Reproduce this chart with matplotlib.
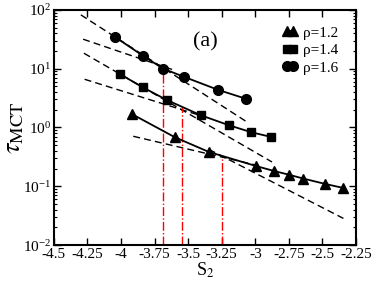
import matplotlib
matplotlib.use("Agg")
import matplotlib.pyplot as plt
import numpy as np

plt.rcParams['font.family'] = ['Liberation Serif', 'DejaVu Serif']
plt.rcParams['mathtext.fontset'] = 'stix'

# data
s2_12 = [-3.917, -3.598, -3.345, -2.995, -2.861, -2.749, -2.642, -2.483, -2.349]
tau_12 = [1.68, 0.68, 0.383, 0.221, 0.182, 0.157, 0.135, 0.110, 0.094]
s2_14 = [-4.010, -3.839, -3.660, -3.405, -3.196, -3.030, -2.883]
tau_14 = [8.14, 4.83, 2.94, 1.61, 1.09, 0.83, 0.69]
s2_16 = [-4.045, -3.839, -3.686, -3.529, -3.276, -3.072]
tau_16 = [34.7, 16.7, 10.0, 7.24, 4.35, 3.09]

# dashed fits (end points)
fits = [
    ([-4.299, -3.062], [82.2, 1.24]),
    ([-4.282, -3.620], [31.7, 9.7]),
    ([-4.276, -2.876], [18.3, 0.259]),
    ([-4.271, -3.375], [6.6, 1.51]),
    ([-3.909, -2.950], [0.708, 0.217]),
    ([-3.345, -2.344], [0.423, 0.0284]),
]

# crossover markers
cross_x = [-3.686, -3.544, -3.248]
cross_top = [10.0, 2.19, 0.311]

fig = plt.figure(figsize=(3.74, 2.82), dpi=100)
ax = fig.add_axes([0.144, 0.131, 0.808, 0.834])

for xs, ys in fits:
    ax.plot(xs, ys, color='black', ls=(0, (5, 3)), lw=1.0)

for x, t in zip(cross_x, cross_top):
    ax.plot([x, x], [0.01, t], color='red', ls='-.', lw=1.0)

ax.plot(s2_12, tau_12, 'k-^', ms=7.5, lw=1.3, label='ρ=1.2')
ax.plot(s2_14, tau_14, 'k-s', ms=6, lw=1.3, label='ρ=1.4')
ax.plot(s2_16, tau_16, 'k-o', ms=7, lw=1.3, label='ρ=1.6')

ax.set_yscale('log')
ax.set_xlim(-4.5, -2.25)
ax.set_ylim(0.01, 100)
ax.set_xticks(np.arange(-4.5, -2.24, 0.25))
ax.set_xticklabels(['-4.5', '-4.25', '-4', '-3.75', '-3.5', '-3.25', '-3',
                    '-2.75', '-2.5', '-2.25'])
ax.tick_params(which='both', direction='in', top=True, right=True,
               labelsize=11, pad=2)
ax.tick_params(which='major', length=5, width=1.0)
ax.tick_params(which='minor', length=2.5, width=0.8)
for sp in ax.spines.values():
    sp.set_linewidth(1.5)

ax.set_xlabel(r'S$_2$', fontsize=13, labelpad=0)
ax.set_ylabel(r'$\tau_{\rm MCT}$', fontsize=19, labelpad=-2)

ax.text(-3.375, 28.5, '(a)', fontsize=16, ha='center', va='center')

ax.legend(loc='upper right', bbox_to_anchor=(0.97, 0.97), frameon=False,
          numpoints=2, handlelength=1.0, handletextpad=0.3,
          labelspacing=0.25, fontsize=11, borderaxespad=0.2)

fig.savefig('out.png', dpi=100)
